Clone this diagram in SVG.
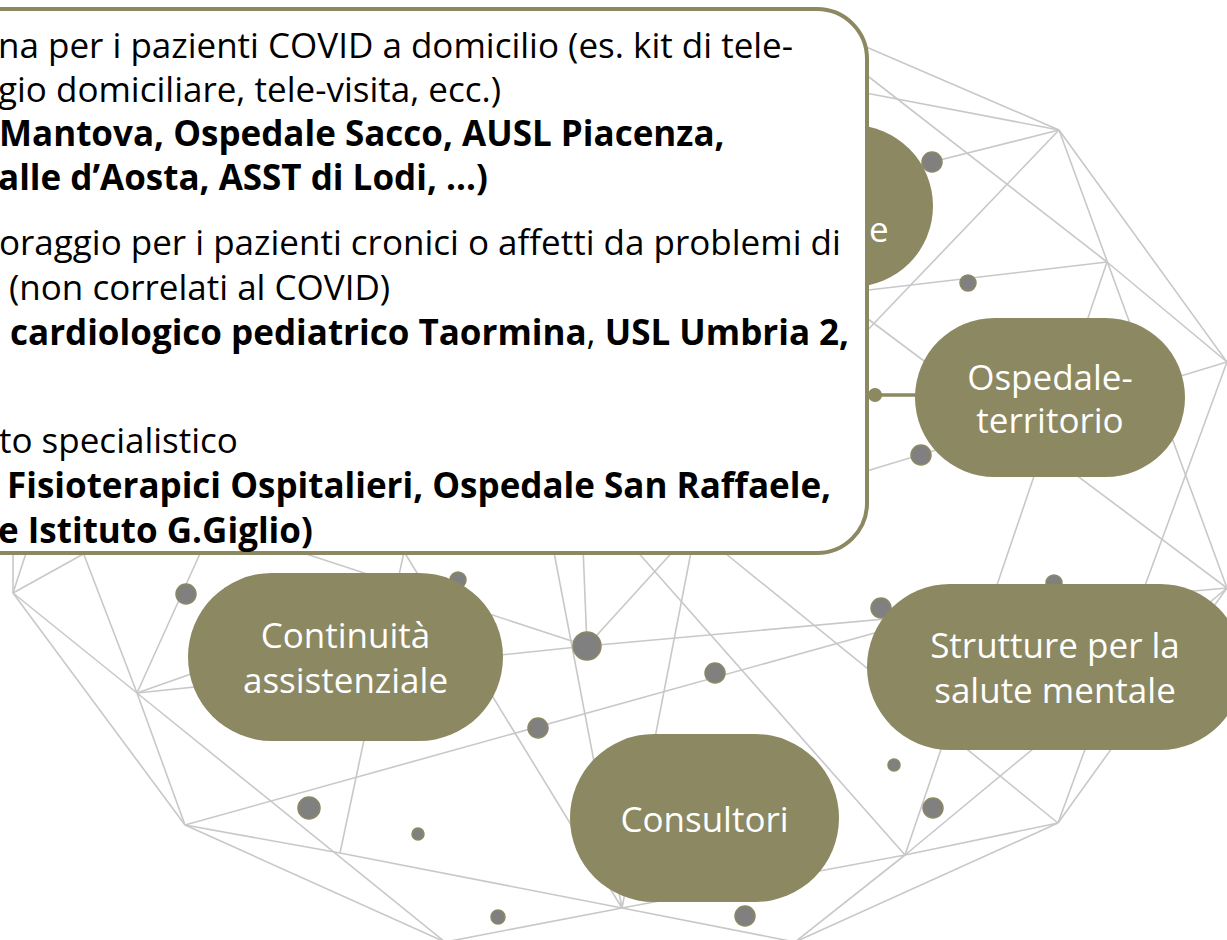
<svg xmlns="http://www.w3.org/2000/svg" width="1227" height="940" viewBox="0 0 1227 940">
<defs>
<style>
.mesh line{stroke:#C8C8C8;stroke-width:1.6;fill:none}
.dot{fill:#808080;stroke:#8C8861;stroke-width:1.5}
.node rect{fill:#8C8861}
.nt{font-family:"Open Sans","Noto Sans","DejaVu Sans",sans-serif;font-size:35px;fill:#FFFFFF;text-anchor:middle}
.bt{font-family:"Open Sans","Noto Sans","DejaVu Sans",sans-serif;font-size:35px;fill:#000000}
.b{font-weight:bold}
</style>
</defs>
<rect x="0" y="0" width="1227" height="940" fill="#FFFFFF"/>
<g id="mesh" class="mesh">
<line x1="850" y1="40" x2="1059" y2="130"/>
<line x1="850" y1="90" x2="1059" y2="130"/>
<line x1="860" y1="70" x2="1107" y2="262"/>
<line x1="1059" y1="130" x2="860" y2="180"/>
<line x1="1059" y1="130" x2="860" y2="338"/>
<line x1="1059" y1="130" x2="1227" y2="588"/>
<line x1="1059" y1="130" x2="1227" y2="362"/>
<line x1="1107" y1="262" x2="1227" y2="362"/>
<line x1="1107" y1="262" x2="860" y2="291"/>
<line x1="1107" y1="262" x2="905" y2="855"/>
<line x1="1227" y1="362" x2="860" y2="473"/>
<line x1="1227" y1="362" x2="1058" y2="823"/>
<line x1="860" y1="313" x2="1227" y2="588"/>
<line x1="715" y1="545" x2="1058" y2="823"/>
<line x1="1058" y1="823" x2="905" y2="855"/>
<line x1="1058" y1="823" x2="1227" y2="588"/>
<line x1="905" y1="855" x2="1227" y2="588"/>
<line x1="1058" y1="823" x2="795" y2="942"/>
<line x1="905" y1="855" x2="795" y2="942"/>
<line x1="622" y1="908" x2="905" y2="855"/>
<line x1="622" y1="908" x2="795" y2="942"/>
<line x1="635" y1="549" x2="905" y2="855"/>
<line x1="692" y1="547" x2="622" y2="908"/>
<line x1="587" y1="646" x2="677" y2="547"/>
<line x1="587" y1="646" x2="1227" y2="588"/>
<line x1="185" y1="825" x2="1054" y2="583"/>
<line x1="137" y1="693" x2="587" y2="646"/>
<line x1="300" y1="552" x2="587" y2="646"/>
<line x1="587" y1="646" x2="583" y2="547"/>
<line x1="137" y1="693" x2="458" y2="580"/>
<line x1="137" y1="693" x2="203" y2="547"/>
<line x1="137" y1="693" x2="81" y2="547"/>
<line x1="13" y1="593" x2="13" y2="547"/>
<line x1="13" y1="593" x2="28" y2="547"/>
<line x1="13" y1="593" x2="96" y2="547"/>
<line x1="13" y1="593" x2="137" y2="693"/>
<line x1="13" y1="593" x2="185" y2="825"/>
<line x1="137" y1="693" x2="185" y2="825"/>
<line x1="137" y1="693" x2="445" y2="942"/>
<line x1="185" y1="825" x2="445" y2="942"/>
<line x1="185" y1="825" x2="340" y2="853"/>
<line x1="340" y1="853" x2="622" y2="908"/>
<line x1="405" y1="547" x2="340" y2="853"/>
<line x1="403" y1="550" x2="622" y2="908"/>
<line x1="445" y1="942" x2="622" y2="908"/>
<line x1="553" y1="547" x2="622" y2="908"/>
</g>
<g id="dots">
<circle class="dot" cx="932" cy="162" r="10"/>
<circle class="dot" cx="968" cy="283" r="8"/>
<circle class="dot" cx="921" cy="455" r="10"/>
<circle class="dot" cx="881" cy="608" r="10"/>
<circle class="dot" cx="1054" cy="583" r="8"/>
<circle class="dot" cx="894" cy="765" r="6"/>
<circle class="dot" cx="933" cy="808" r="10"/>
<circle class="dot" cx="186" cy="594" r="10"/>
<circle class="dot" cx="458" cy="580" r="8"/>
<circle class="dot" cx="587" cy="646" r="14"/>
<circle class="dot" cx="715" cy="673" r="10"/>
<circle class="dot" cx="538" cy="728" r="10"/>
<circle class="dot" cx="309" cy="808" r="11"/>
<circle class="dot" cx="418" cy="834" r="6"/>
<circle class="dot" cx="498" cy="917" r="7"/>
<circle class="dot" cx="745" cy="916" r="10"/>
</g>
<g id="node-e" class="node">
<rect x="663" y="125" width="270" height="162" rx="81"/>
<text class="nt" x="869" y="242" style="text-anchor:start">e</text>
</g>
<g id="node-continuita" class="node">
<rect x="188" y="573" width="315" height="168" rx="84"/>
<text class="nt" x="345.5" y="648">Continuità</text>
<text class="nt" x="345.5" y="693">assistenziale</text>
</g>
<g id="node-consultori" class="node">
<rect x="570" y="734" width="269" height="168" rx="84"/>
<text class="nt" x="704.5" y="832">Consultori</text>
</g>
<g id="node-strutture" class="node">
<rect x="867" y="584" width="376" height="166" rx="83"/>
<text class="nt" x="1055" y="658">Strutture per la</text>
<text class="nt" x="1055" y="703">salute mentale</text>
</g>
<g id="node-ospedale" class="node">
<rect x="915" y="318" width="270" height="159" rx="79.5"/>
<text class="nt" x="1050" y="390">Ospedale-</text>
<text class="nt" x="1050" y="433">territorio</text>
</g>
<g id="node-box">
<rect x="-50" y="9" width="917" height="544" rx="50" fill="#FFFFFF" stroke="#8C8861" stroke-width="4"/>
<text class="bt" x="-2" y="58">na per i pazienti COVID a domicilio (es. kit di tele-</text>
<text class="bt" x="-2" y="102">gio domiciliare, tele-visita, ecc.)</text>
<text class="bt b" x="-1" y="146">Mantova, Ospedale Sacco, AUSL Piacenza,</text>
<text class="bt b" x="-2" y="190">alle d’Aosta, ASST di Lodi, ...)</text>
<text class="bt" x="-1" y="255">oraggio per i pazienti cronici o affetti da problemi di</text>
<text class="bt" x="9" y="300">(non correlati al COVID)</text>
<text class="bt" x="10" y="345"><tspan class="b">cardiologico pediatrico Taormina</tspan>, <tspan class="b">USL Umbria 2,</tspan></text>
<text class="bt" x="-1" y="453">to specialistico</text>
<text class="bt b" x="7" y="498">Fisioterapici Ospitalieri, Ospedale San Raffaele,</text>
<text class="bt b" x="-2" y="543">e Istituto G.Giglio)</text>
</g>
<g id="connectors">
<line x1="875" y1="395" x2="917" y2="395" stroke="#8C8861" stroke-width="3.5"/>
<circle cx="875" cy="395" r="7" fill="#8C8861"/>
</g>
</svg>
